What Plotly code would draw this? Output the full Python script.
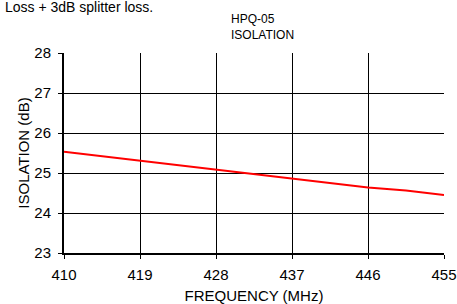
import plotly.graph_objects as go

freq = [410, 414.5, 419, 423.5, 428, 432.5, 437, 441.5, 446, 450.5, 455]
isolation = [25.53, 25.42, 25.31, 25.2, 25.08, 24.97, 24.87, 24.75, 24.64, 24.56, 24.45]
x_ticks = [410, 419, 428, 437, 446, 455]
y_ticks = [23, 24, 25, 26, 27, 28]

W, H = 457, 304
L, R, T, B = 64, 13, 53, 51
pw, ph = W - L - R, H - T - B

fig = go.Figure()
fig.add_trace(go.Scatter(x=freq, y=isolation, mode="lines",
                         line=dict(color="#ff0000", width=2), showlegend=False))

font = dict(family="Liberation Sans, Arial, sans-serif", size=15, color="black")
fig.update_layout(
    width=W, height=H,
    margin=dict(l=L, r=R, t=T, b=B),
    paper_bgcolor="white", plot_bgcolor="white",
    font=font,
    xaxis=dict(range=[410, 455], tickvals=x_ticks, showgrid=True, gridcolor="black", gridwidth=1,
               showline=True, linecolor="black", linewidth=2, ticks="outside", ticklen=4,
               tickcolor="black", zeroline=False, automargin=False, ticklabelstandoff=3,
               title=dict(text="FREQUENCY (MHz)", standoff=9, font=dict(size=15))),
    yaxis=dict(range=[23, 28], tickvals=y_ticks, showgrid=True, gridcolor="black", gridwidth=1,
               showline=True, linecolor="black", linewidth=2, ticks="outside", ticklen=4,
               tickcolor="black", zeroline=False, automargin=False, ticklabelstandoff=4,
               title=dict(text="ISOLATION (dB)", standoff=1, font=dict(size=15))),
)
fig.add_annotation(text="HPQ-05<br>ISOLATION", xref="paper", yref="paper",
                   x=(229 - L) / pw, y=(T + ph - 27) / ph, xanchor="left", yanchor="middle",
                   align="left", showarrow=False, font=dict(size=12))
fig.add_annotation(text="Loss + 3dB splitter loss.", xref="paper", yref="paper",
                   x=(3 - L) / pw, y=(T + ph - 7) / ph, xanchor="left", yanchor="middle",
                   showarrow=False, font=dict(size=14))
fig.write_html("out.html", config={"displayModeBar": False},
               post_script="document.body.style.margin='0';")
